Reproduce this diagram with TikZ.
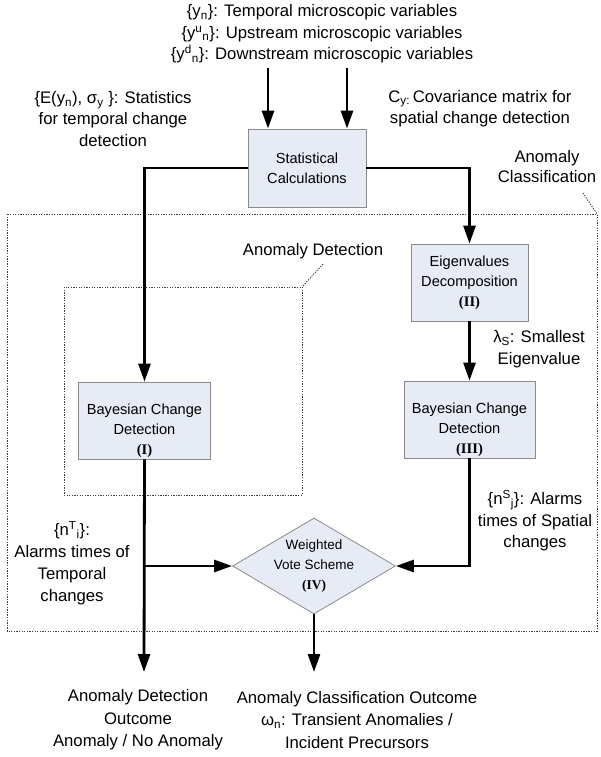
\documentclass[tikz,border=0pt]{standalone}
\usepackage{fontspec}
\setmainfont{Liberation Sans}
\newfontfamily\romfont{Liberation Serif}
\usepackage{xcolor}
\usetikzlibrary{arrows.meta,shapes.geometric}
\definecolor{boxfill}{HTML}{E7EBF6}
\definecolor{boxline}{HTML}{8A8A8A}
\definecolor{zoneline}{HTML}{3C3C3C}
\newcommand{\rnum}[1]{{\romfont\bfseries(#1)}}

\begin{document}
\begin{tikzpicture}[x=1pt,y=-1pt,>={Triangle[length=18pt,width=12pt]},
    flow/.style={->,line width=2.8pt},
    zone/.style={draw=zoneline,line width=0.9pt,dash pattern=on 1.3pt off 1.3pt},
    blk/.style={draw=boxline,fill=boxfill,line width=0.8pt,minimum width=#1,minimum height=77pt,
        inner sep=0pt,align=center,font=\fontsize{14.6}{20}\selectfont},
    btxt/.style={align=center,inner sep=0pt,font=\fontsize{14.6}{20}\selectfont},
    vote/.style={diamond,draw=boxline,fill=boxfill,line width=0.8pt,aspect=1.7,
        minimum width=163pt,minimum height=96pt,inner sep=0pt},
    lbl/.style={align=center,inner sep=0pt,font=\fontsize{16.7}{21.5}\selectfont}]
    \useasboundingbox (0,0) rectangle (600,757);

    \draw[zone] (7,214) rectangle (597,631);
    \draw[zone] (64,287) rectangle (302,495);

    \node[blk=118pt,minimum height=78pt] (stat) at (307,168) {Statistical\\Calculations};
    \node[blk=117pt] (eigen) at (469.5,282.5) {Eigenvalues\\Decomposition\\\rnum{II}};
    \node[blk=132pt,label={[btxt,yshift=-10pt]center:{Bayesian Change\\Detection\\\rnum{I}}}] (bayesT) at (144.5,420.5) {};
    \node[blk=131pt,label={[btxt,yshift=-10pt]center:{Bayesian Change\\Detection\\\rnum{III}}}] (bayesS) at (469.5,419.5) {};
    \node[vote,label={[btxt,font=\fontsize{13.5}{20}\selectfont]center:{Weighted\\Vote Scheme\\\rnum{IV}}}] (wvote) at (314,566) {};

    \node[lbl] (inputs) at (322,34) {\{y\textsubscript{n}\}: Temporal microscopic variables\\
        \{y\textsuperscript{u}\textsubscript{n}\}: Upstream microscopic variables\\
        \{y\textsuperscript{d}\textsubscript{n}\}: Downstream microscopic variables};
    \node[lbl] (stattxt) at (113,119) {\{E(y\textsubscript{n}), σ\textsubscript{y} \}: Statistics\\for temporal change\\detection};
    \node[lbl] (covtxt) at (480,108.5) {C\textsubscript{y:}\,Covariance matrix for\\spatial change detection};
    \node[lbl,font=\fontsize{16.7}{20}\selectfont] (acltxt) at (547,167) {Anomaly\\Classification};
    \node[lbl] (adttxt) at (313,251) {Anomaly Detection};
    \node[lbl] (lamtxt) at (539,349) {λ\textsubscript{S}: Smallest\\Eigenvalue};
    \node[lbl,font=\fontsize{16.7}{22}\selectfont] (ntxt) at (72,563) {\{n\textsuperscript{T}\textsubscript{i}\}:\\Alarms times of\\Temporal\\changes};
    \node[lbl] (nstxt) at (535,521) {\{n\textsuperscript{S}\textsubscript{j}\}: Alarms\\times of Spatial\\changes};
    \node[lbl,font=\fontsize{16.7}{22.5}\selectfont] (detout) at (138,720) {Anomaly Detection\\Outcome\\Anomaly / No Anomaly};
    \node[lbl,font=\fontsize{16.7}{22.5}\selectfont] (clsout) at (357,720) {Anomaly Classification Outcome\\ω\textsubscript{n}: Transient Anomalies /\\Incident Precursors};

    \coordinate (aclA) at (583,193);
    \coordinate (aclB) at (597,214);
    \coordinate (adtA) at (323,264);
    \coordinate (adtB) at (302,287);
    \draw[zone] (aclA) -- (aclB);
    \draw[zone] (adtA) -- (adtB);

    \foreach \x/\n in {268/a,347/b}{
        \coordinate (in\n) at (\x,68);
        \draw[flow] (in\n) -- (in\n |- stat.north);
    }
    \draw[flow] (stat.west) -| (bayesT.north);
    \draw[flow] (stat.east) -| (eigen.north);
    \draw[flow] (eigen.south) -- (bayesS.north);
    \coordinate (endD) at (144,672);
    \coordinate (endC) at (314,672);
    \draw[flow] (bayesT.south) -- (endD);
    \draw[flow] (bayesT.south |- wvote.west) -- (wvote.west);
    \draw[flow] (bayesS.south) |- (wvote.east);
    \draw[flow] (wvote.south) -- (endC);
\end{tikzpicture}
\end{document}
